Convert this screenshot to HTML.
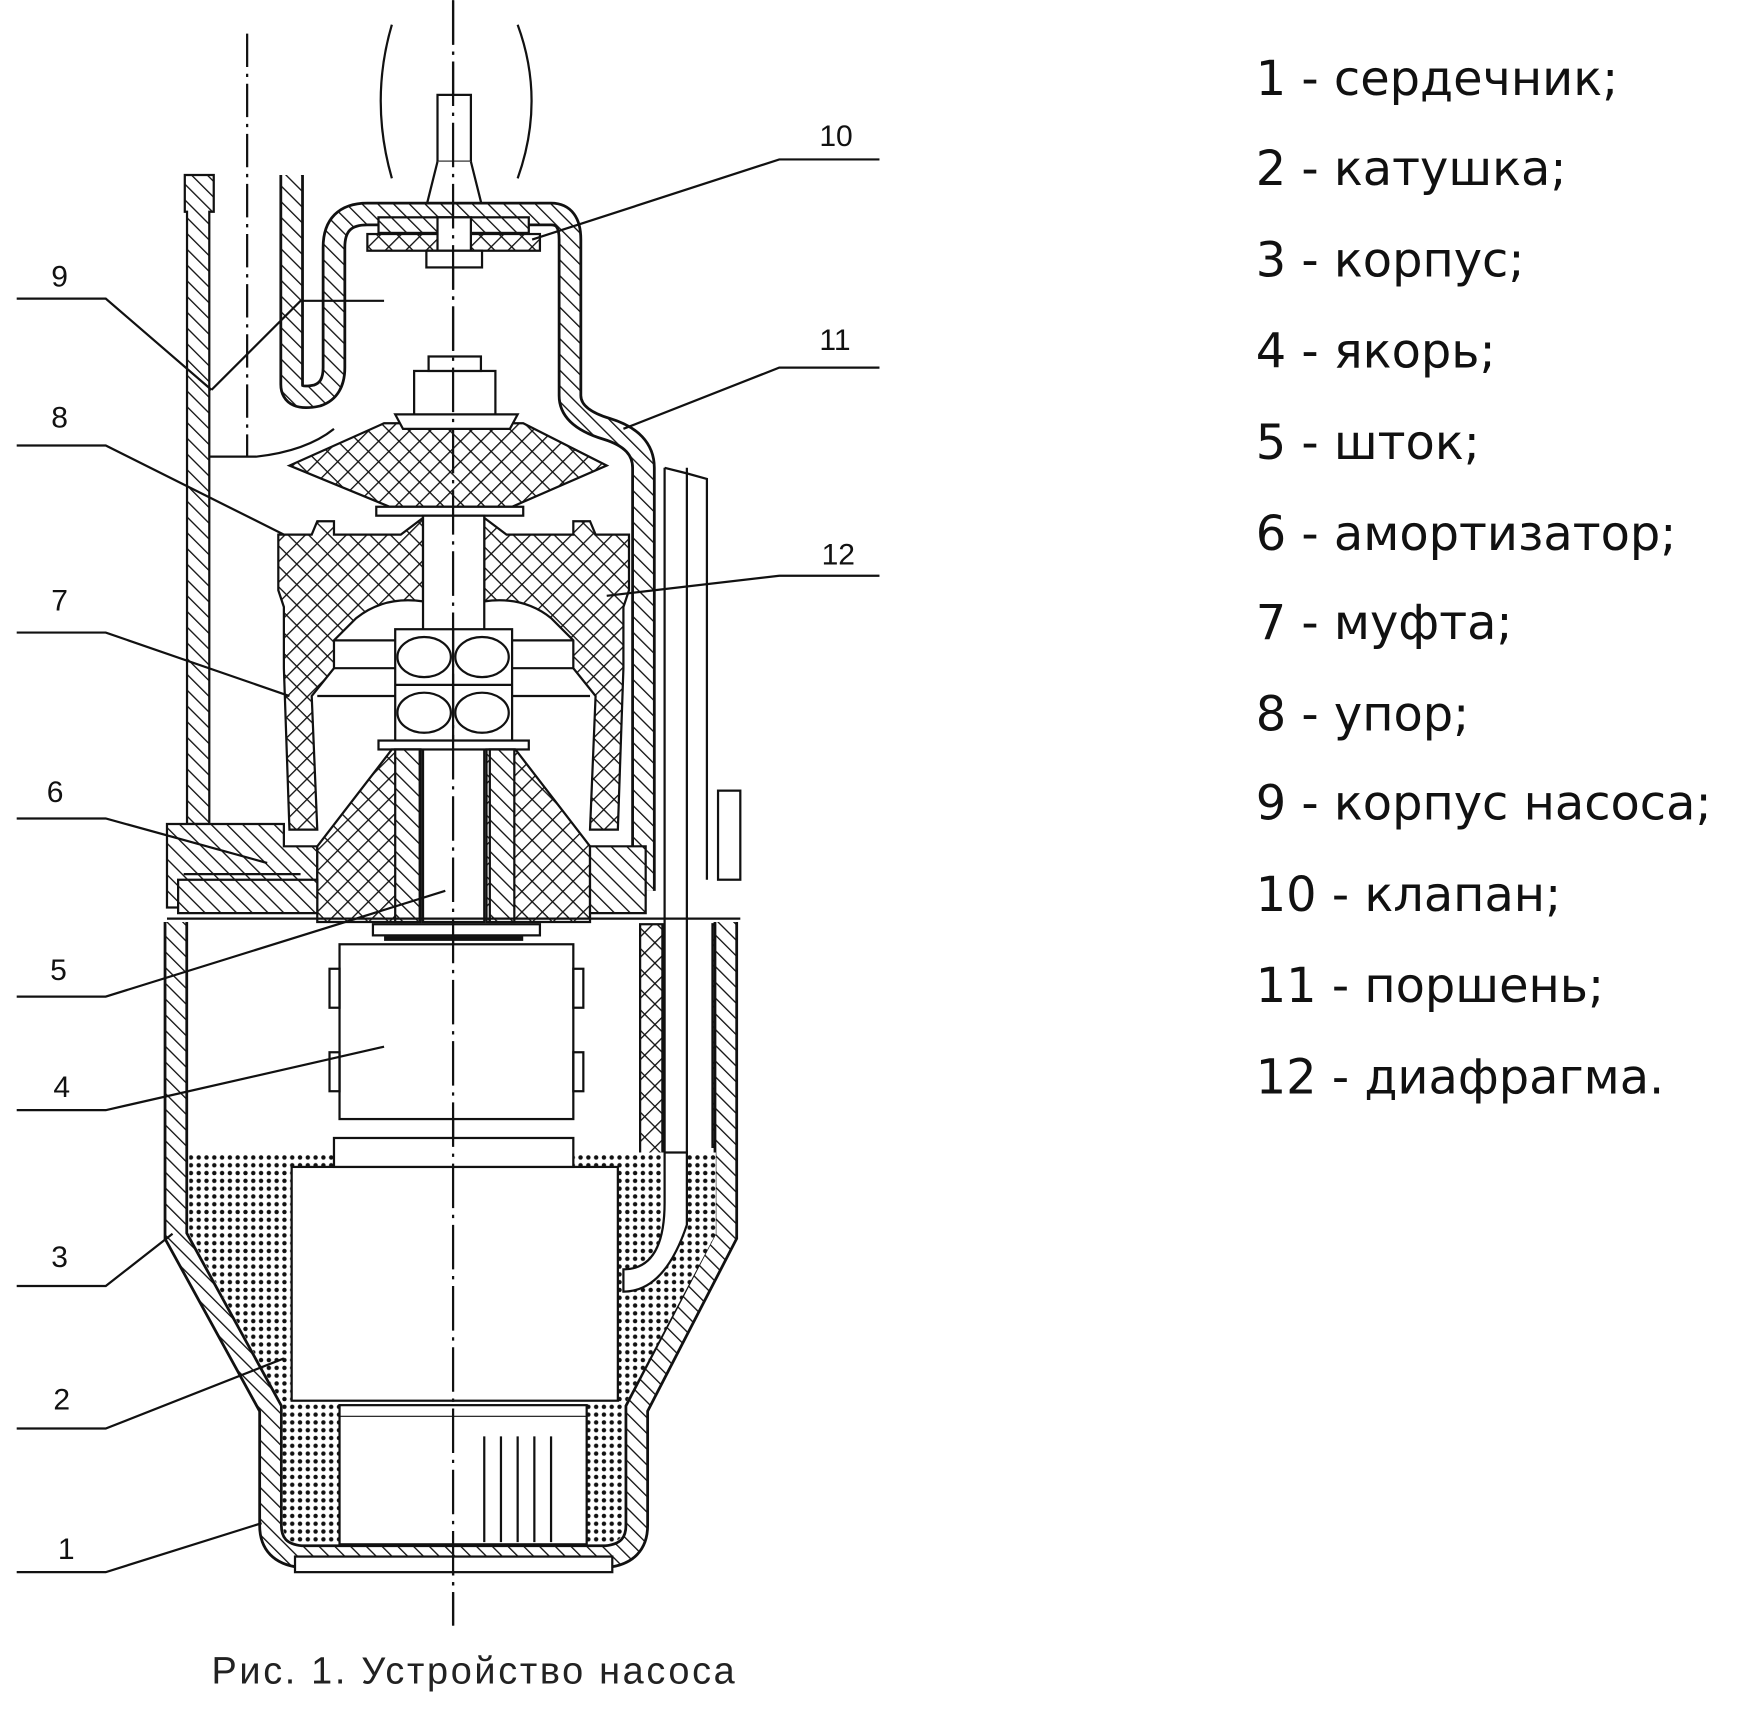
<!DOCTYPE html>
<html><head><meta charset="utf-8"><style>
html,body{margin:0;padding:0;background:#fff;}
svg{display:block;}
</style></head><body>
<svg width="1740" height="1716" viewBox="0 0 1563 1541" xmlns="http://www.w3.org/2000/svg">
<defs>
<pattern id="h" patternUnits="userSpaceOnUse" width="10" height="10" patternTransform="rotate(-45)">
<rect width="10" height="10" fill="#fff"/><line x1="0" y1="0" x2="0" y2="10" stroke="#111" stroke-width="2.4"/></pattern>
<pattern id="x" patternUnits="userSpaceOnUse" width="13" height="13" patternTransform="rotate(45)">
<rect width="13" height="13" fill="#fff"/><line x1="0" y1="0" x2="0" y2="13" stroke="#111" stroke-width="2.4"/><line x1="0" y1="0" x2="13" y2="0" stroke="#111" stroke-width="2.4"/></pattern>
<pattern id="d" patternUnits="userSpaceOnUse" width="7" height="7">
<rect width="7" height="7" fill="#fff"/><circle cx="3.5" cy="3.5" r="2" fill="#111"/></pattern>
</defs>
<g fill="none" stroke="#111" stroke-width="2">
<line x1="407" y1="0" x2="407" y2="1460" stroke-dasharray="40 6 3 6"/>
<line x1="222" y1="30" x2="222" y2="410" stroke-dasharray="30 6 3 6"/>
<path d="M352 22 Q332 90 352 160"/><path d="M465 22 Q490 90 465 160"/>

<rect x="393" y="85" width="30" height="60" fill="#fff"/>
<path d="M393 145 L383 185 L433 185 L423 145" fill="#fff"/>

<path d="M262 157 L262 345 Q262 360 285 355 Q300 350 300 330 L300 222 Q300 192 330 192 L495 192 Q512 192 512 215 L512 355 Q512 375 545 385 Q578 395 578 420 L578 800" stroke="#111" stroke-width="22"/>
<path d="M262 157 L262 345 Q262 360 285 355 Q300 350 300 330 L300 222 Q300 192 330 192 L495 192 Q512 192 512 215 L512 355 Q512 375 545 385 Q578 395 578 420 L578 800" stroke="url(#h)" stroke-width="17"/>
<path d="M166 157 L192 157 L192 190 L188 190 L188 740 L168 740 L168 190 L166 190 Z" fill="url(#h)"/>
<path d="M188 410 L230 410 Q275 405 300 385"/>
<path d="M150 740 L255 740 L255 760 L285 760 L285 815 L150 815 Z" fill="url(#h)"/>
<line x1="165" y1="785" x2="270" y2="785"/>

<rect x="330" y="210" width="155" height="15" fill="url(#x)"/>
<rect x="340" y="195" width="135" height="14" fill="url(#h)"/>
<rect x="393" y="195" width="30" height="30" fill="#fff"/>
<rect x="383" y="225" width="50" height="15" fill="#fff"/>

<path d="M260 418 L345 380 L470 380 L545 418 L460 455 L350 455 Z" fill="url(#x)"/>
<rect x="338" y="455" width="132" height="8" fill="#fff"/>
<rect x="372" y="333" width="73" height="40" fill="#fff"/>
<rect x="385" y="320" width="47" height="13" fill="#fff"/>
<path d="M355 372 L465 372 L458 385 L362 385 Z" fill="#fff"/>

<path d="M250 480 L280 480 L285 468 L300 468 L300 480 L360 480 L380 465 L380 540 Q345 535 320 555 L300 575 L300 600 L280 625 L285 745 L260 745 L255 600 L255 545 L250 530 Z" fill="url(#x)"/>
<path d="M565 480 L535 480 L530 468 L515 468 L515 480 L455 480 L435 465 L435 540 Q470 535 495 555 L515 575 L515 600 L535 625 L530 745 L555 745 L560 600 L560 545 L565 530 Z" fill="url(#x)"/>
<path d="M300 600 L515 600 M300 575 L360 575 M455 575 L515 575 M285 625 L355 625 M460 625 L530 625"/>
<rect x="380" y="463" width="55" height="365" fill="#fff"/>
<rect x="355" y="565" width="105" height="100" fill="#fff"/>
<line x1="407" y1="565" x2="407" y2="665"/><line x1="355" y1="615" x2="460" y2="615"/>
<ellipse cx="381" cy="590" rx="24" ry="18"/><ellipse cx="433" cy="590" rx="24" ry="18"/>
<ellipse cx="381" cy="640" rx="24" ry="18"/><ellipse cx="433" cy="640" rx="24" ry="18"/>
<rect x="340" y="665" width="135" height="8" fill="#fff"/>
<path d="M285 760 L352 673 L378 673 L378 828 L285 828 Z" fill="url(#x)"/>
<path d="M530 760 L463 673 L437 673 L437 828 L530 828 Z" fill="url(#x)"/>
<rect x="355" y="673" width="22" height="155" fill="url(#h)"/>
<rect x="440" y="673" width="22" height="155" fill="url(#h)"/>
<path d="M530 760 L580 760 L580 820 L530 820 Z" fill="url(#h)"/>
<path d="M160 790 L285 790 L285 820 L160 820 Z" fill="url(#h)"/>

<path d="M597 420 L597 1080 Q597 1140 560 1140"/>
<path d="M617 420 L617 1080 Q617 1160 560 1160"/>
<path d="M597 420 L617 425 L635 430 L635 790"/>
<rect x="645" y="710" width="20" height="80" fill="#fff"/>
<rect x="575" y="830" width="20" height="210" fill="url(#x)"/>
<rect x="640" y="830" width="20" height="200" fill="url(#x)"/>

<path d="M158 828 L158 1110 L243 1265 L243 1370 Q243 1395 270 1398 L545 1398 Q572 1395 572 1370 L572 1265 L652 1110 L652 828" stroke-width="22"/>
<path d="M158 828 L158 1110 L243 1265 L243 1370 Q243 1395 270 1398 L545 1398 Q572 1395 572 1370 L572 1265 L652 1110 L652 828" stroke="url(#h)" stroke-width="17"/>
<rect x="265" y="1398" width="285" height="14" fill="#fff"/>
<line x1="150" y1="825" x2="665" y2="825"/>

<path d="M170 1035 L643 1035 L643 1108 L561 1262 L561 1368 Q561 1386 545 1386 L270 1386 Q254 1386 254 1368 L254 1262 L170 1108 Z" fill="url(#d)" stroke="none"/>
<path d="M560 1160 Q597 1160 617 1100 L617 1035 L597 1035 L597 1080 Q597 1140 560 1140 Z" fill="#fff"/>
<rect x="262" y="1048" width="293" height="210" fill="#fff"/>
<rect x="300" y="1022" width="215" height="26" fill="#fff"/>
<rect x="305" y="1262" width="222" height="125" fill="#fff"/>
<line x1="305" y1="1272" x2="527" y2="1272" stroke-width="1"/>
<path d="M435 1290 V1385 M450 1290 V1385 M465 1290 V1385 M480 1290 V1385 M495 1290 V1385"/>

<rect x="335" y="830" width="150" height="10" fill="#fff"/>
<line x1="345" y1="843" x2="470" y2="843" stroke-width="4"/>
<rect x="305" y="848" width="210" height="157" fill="#fff"/>
<rect x="296" y="870" width="9" height="35"/><rect x="296" y="945" width="9" height="35"/>
<rect x="515" y="870" width="9" height="35"/><rect x="515" y="945" width="9" height="35"/>
<line x1="407" y1="0" x2="407" y2="1460" stroke-dasharray="40 6 3 6"/>

<path d="M15 268 L95 268 L190 350 M190 350 L270 270 L345 270"/>
<path d="M15 400 L95 400 L255 480"/>
<path d="M15 568 L95 568 L260 625"/>
<path d="M15 735 L95 735 L240 775"/>
<path d="M15 895 L95 895 L400 800"/>
<path d="M15 997 L95 997 L345 940"/>
<path d="M15 1155 L95 1155 L155 1108"/>
<path d="M15 1283 L95 1283 L255 1220"/>
<path d="M15 1412 L95 1412 L235 1368"/>
<path d="M790 143 L700 143 L478 215"/>
<path d="M790 330 L700 330 L560 385"/>
<path d="M790 517 L700 517 L545 535"/>
</g>
<g font-family="'Liberation Sans','DejaVu Sans',sans-serif" font-size="27" fill="#111">
<text x="46" y="257">9</text><text x="46" y="384">8</text><text x="46" y="548">7</text>
<text x="42" y="720">6</text><text x="45" y="880">5</text><text x="48" y="985">4</text>
<text x="46" y="1138">3</text><text x="48" y="1266">2</text><text x="52" y="1400">1</text>
<text x="736" y="131">10</text><text x="736" y="314">11</text><text x="738" y="507">12</text>
</g>
<text x="190" y="1512" font-family="'Liberation Sans','DejaVu Sans',sans-serif" font-size="34" fill="#222" textLength="470">Рис. 1. Устройство насоса</text>
<g font-family="'DejaVu Sans','Liberation Sans',sans-serif" font-size="43" fill="#111">
<text x="1128" y="85">1 - сердечник;</text>
<text x="1128" y="166">2 - катушка;</text>
<text x="1128" y="248">3 - корпус;</text>
<text x="1128" y="330">4 - якорь;</text>
<text x="1128" y="412">5 - шток;</text>
<text x="1128" y="494">6 - амортизатор;</text>
<text x="1128" y="574">7 - муфта;</text>
<text x="1128" y="656">8 - упор;</text>
<text x="1128" y="736">9 - корпус насоса;</text>
<text x="1128" y="818">10 - клапан;</text>
<text x="1128" y="900">11 - поршень;</text>
<text x="1128" y="982">12 - диафрагма.</text>
</g>
</svg>
</body></html>
